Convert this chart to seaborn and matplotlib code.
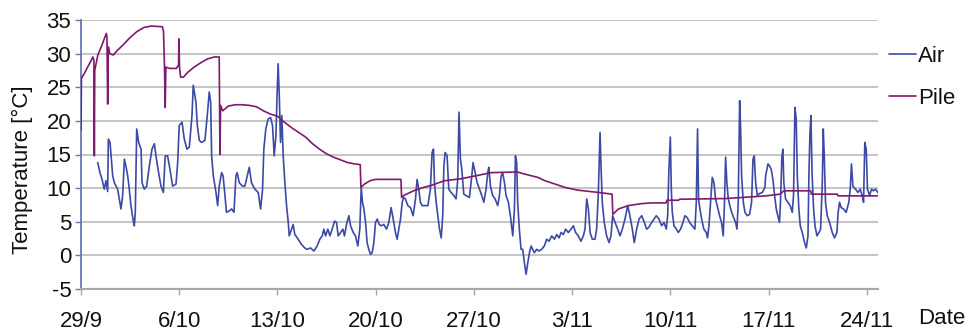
import matplotlib
matplotlib.use("Agg")
import matplotlib.pyplot as plt
import pandas as pd
import seaborn as sns

# Days counted from 29/9 00:00
air_day = [
    1.19, 1.35, 1.5, 1.66, 1.78, 1.9, 1.95, 2.07, 2.26, 2.38, 2.61, 2.73, 2.85, 2.97,
    3.09, 3.2, 3.33, 3.44, 3.56, 3.73, 3.8, 3.87, 3.97, 4.11, 4.28, 4.35, 4.51, 4.68,
    4.87, 5.06, 5.23, 5.34, 5.53, 5.7, 5.87, 6.0, 6.17, 6.34, 6.53, 6.77, 6.89, 7.0,
    7.2, 7.36, 7.55, 7.72, 7.91, 8.0, 8.19, 8.29, 8.43, 8.6, 8.83, 9.0, 9.14, 9.24,
    9.31, 9.43, 9.62, 9.74, 9.85, 10.02, 10.13, 10.26, 10.37, 10.56, 10.73, 10.9,
    11.04, 11.13, 11.28, 11.51, 11.68, 11.85, 11.99, 12.15, 12.39, 12.63, 12.8, 12.94,
    13.03, 13.17, 13.34, 13.51, 13.65, 13.77, 13.89, 13.98, 14.05, 14.13, 14.22, 14.31,
    14.41, 14.53, 14.65, 14.77, 14.84, 15.0, 15.12, 15.24, 15.48, 15.72, 15.95, 16.12,
    16.36, 16.6, 16.83, 17.02, 17.19, 17.31, 17.43, 17.59, 17.74, 17.9, 18.07, 18.21,
    18.33, 18.5, 18.66, 18.78, 18.92, 19.09, 19.21, 19.4, 19.56, 19.73, 19.87, 19.97,
    20.06, 20.16, 20.28, 20.39, 20.51, 20.63, 20.75, 20.87, 20.99, 21.11, 21.25, 21.39,
    21.58, 21.77, 21.94, 22.1, 22.25, 22.41, 22.53, 22.65, 22.77, 22.89, 23.0, 23.12,
    23.29, 23.48, 23.67, 23.84, 23.95, 24.07, 24.19, 24.31, 24.48, 24.72, 24.9, 25.02,
    25.12, 25.19, 25.31, 25.43, 25.55, 25.67, 25.78, 25.86, 25.95, 26.09, 26.21, 26.38,
    26.57, 26.73, 26.85, 26.94, 27.04, 27.14, 27.28, 27.44, 27.68, 27.85, 27.94, 28.09,
    28.23, 28.4, 28.56, 28.71, 28.87, 28.99, 29.06, 29.18, 29.34, 29.51, 29.7, 29.82,
    29.94, 30.05, 30.18, 30.29, 30.46, 30.6, 30.77, 30.89, 30.96, 31.05, 31.12, 31.24,
    31.36, 31.48, 31.6, 31.72, 31.84, 31.96, 32.08, 32.19, 32.31, 32.48, 32.64, 32.83,
    33.02, 33.19, 33.36, 33.55, 33.74, 33.9, 34.07, 34.21, 34.38, 34.54, 34.73, 34.92,
    35.09, 35.25, 35.44, 35.63, 35.8, 35.92, 36.04, 36.16, 36.28, 36.44, 36.63, 36.75,
    36.87, 36.99, 37.06, 37.15, 37.29, 37.46, 37.63, 37.77, 37.89, 38.06, 38.25, 38.41,
    38.58, 38.77, 38.96, 39.12, 39.29, 39.43, 39.6, 39.77, 39.96, 40.15, 40.31, 40.48,
    40.67, 40.84, 41.0, 41.19, 41.38, 41.55, 41.71, 41.81, 41.9, 42.0, 42.07, 42.14,
    42.26, 42.43, 42.57, 42.73, 42.9, 43.04, 43.21, 43.37, 43.56, 43.75, 43.85, 43.94,
    44.01, 44.11, 44.23, 44.39, 44.56, 44.65, 44.75, 44.87, 44.99, 45.11, 45.22, 45.34,
    45.51, 45.65, 45.77, 45.86, 45.94, 46.03, 46.13, 46.3, 46.46, 46.65, 46.75, 46.84,
    46.94, 47.01, 47.08, 47.2, 47.32, 47.48, 47.65, 47.79, 47.89, 47.98, 48.08, 48.2,
    48.36, 48.55, 48.74, 48.79, 48.96, 49.07, 49.19, 49.31, 49.43, 49.55, 49.66, 49.78,
    49.85, 49.95, 50.02, 50.09, 50.21, 50.38, 50.54, 50.69, 50.78, 50.88, 50.97, 51.05,
    51.16, 51.26, 51.4, 51.57, 51.69, 51.81, 51.88, 51.95, 52.02, 52.1, 52.21, 52.31,
    52.45, 52.59, 52.71, 52.83, 52.9, 52.97, 53.06, 53.18, 53.35, 53.54, 53.7, 53.87,
    53.96, 54.06, 54.18, 54.34, 54.53, 54.72, 54.82, 54.91, 55.01, 55.2, 55.37, 55.53,
    55.67, 55.77, 55.86, 55.96, 56.05, 56.2, 56.34, 56.48, 56.62, 56.79,
]
air_temp = [
    13.8, 12.3, 11.3, 9.85, 11.1, 9.5, 17.3, 16.8, 11.8, 10.8, 9.85, 8.4, 6.9, 8.9,
    14.3, 13.3, 11.8, 9.85, 7.4, 5.1, 4.4, 6.4, 18.8, 16.8, 15.8, 10.8, 9.85, 10.3,
    13.3, 15.8, 16.6, 14.8, 12.3, 10.3, 9.35, 14.8, 14.8, 12.8, 10.3, 10.6, 13.8, 19.3,
    19.8, 17.3, 15.8, 16.1, 20.8, 25.3, 22.8, 19.3, 17.1, 16.8, 17.1, 20.8, 24.3, 22.8,
    14.8, 11.8, 9.35, 7.4, 10.3, 12.3, 11.8, 8.9, 6.4, 6.6, 6.9, 6.4,
    11.8, 12.3, 10.8, 10.3, 10.3, 11.8, 13.1, 10.8, 9.85, 9.35, 6.9, 9.85,
    15.8, 18.8, 20.3, 20.5, 19.3, 14.8, 17.8, 24.3, 28.5, 23.8, 16.8, 20.8,
    14.8, 10.8, 7.4, 4.9, 2.9, 3.9, 4.6, 3.1, 2.4, 1.6, 1.1, 0.9,
    1.1, 0.65, 1.4, 2.4, 2.9, 3.9, 2.9, 3.9, 2.9, 3.9, 5.1, 4.9,
    2.9, 3.4, 3.9, 2.9, 4.6, 5.9, 4.4, 3.4, 2.9, 1.4, 3.9, 10.1,
    7.9, 6.9, 4.9, 1.9, 0.9, 0.15, 0.4, 1.9, 4.9, 5.4, 4.6, 4.4,
    4.6, 3.9, 4.9, 7.1, 5.4, 3.4, 2.4, 3.9, 5.4, 7.9, 8.6, 8.4,
    7.4, 7.1, 5.9, 8.4, 11.3, 9.85, 7.9, 7.4, 7.4, 7.4, 9.85, 15.3,
    15.8, 10.8, 7.9, 5.9, 3.9, 2.6, 5.9, 13.3, 15.3, 14.8, 9.85, 9.35,
    8.9, 8.4, 11.3, 21.3, 14.3, 12.8, 9.1, 8.9, 8.6, 11.8, 13.8, 12.3,
    10.8, 9.85, 8.9, 7.9, 9.85, 12.3, 13.1, 10.3, 8.9, 8.4, 7.4, 8.9,
    11.8, 12.3, 10.8, 8.9, 7.9, 5.9, 2.9, 6.9, 14.8, 13.8, 7.9, 3.9,
    0.9, 0.9, -1.1, -2.8, -1.1, 0.4, 1.4, 0.9, 0.4, 0.9, 0.65, 0.9,
    1.4, 2.4, 2.1, 2.9, 2.4, 3.1, 2.6, 3.4, 3.1, 3.9, 3.4, 3.9,
    4.4, 3.4, 2.9, 2.1, 2.9, 3.9, 8.4, 6.9, 3.4, 2.4, 2.4, 3.9,
    9.35, 18.3, 13.3, 7.9, 4.9, 2.9, 1.9, 2.9, 5.9, 4.9, 3.9, 2.9,
    3.9, 5.4, 7.4, 5.9, 3.9, 1.9, 3.9, 5.4, 5.9, 4.9, 3.9, 4.2,
    4.9, 5.4, 5.9, 5.4, 4.4, 4.9, 3.9, 5.9, 12.8, 17.6, 9.85, 6.4,
    4.4, 3.9, 3.4, 3.9, 4.9, 5.9, 5.6, 4.9, 4.4, 3.9, 7.9, 18.8,
    8.4, 6.9, 5.4, 3.9, 3.4, 2.6, 4.4, 7.9, 11.6, 10.8, 8.4, 7.4,
    5.9, 4.9, 2.9, 7.9, 14.6, 10.8, 8.4, 6.9, 5.9, 4.9, 3.9, 7.9,
    23.0, 18.8, 11.8, 7.9, 6.4, 5.9, 6.1, 7.9, 14.3, 14.8, 10.8, 8.9,
    9.2, 9.35, 10.1, 11.8, 13.6, 13.3, 12.8, 11.3, 8.9, 6.9, 5.9, 4.9,
    7.9, 14.6, 15.8, 10.8, 8.4, 7.9, 7.4, 6.4, 8.9, 22.0, 20.3, 11.8,
    6.9, 4.4, 3.4, 1.9, 1.1, 2.9, 12.3, 18.1, 20.8, 12.3, 6.9, 4.4,
    2.9, 3.4, 3.9, 10.8, 18.8, 14.8, 7.9, 5.9, 4.9, 3.4, 2.6, 3.4,
    6.4, 7.9, 7.1, 6.9, 6.4, 7.9, 9.85, 13.6, 10.3, 9.85, 9.35, 9.85,
    8.9, 7.9, 16.8, 15.8, 9.85, 8.9, 9.85, 9.6, 9.85, 9.35,
]

pile_day = [
    0.0, 0.03, 0.3, 0.6, 0.85, 0.92, 0.95, 0.98, 1.2, 1.5, 1.8, 1.85, 1.9, 1.95,
    2.05, 2.3, 2.6, 3.0, 3.5, 4.0, 4.5, 5.0, 5.8, 5.88, 5.95, 6.0, 6.05, 6.3, 6.8,
    6.95, 6.98, 7.02, 7.1, 7.3, 7.6, 8.0, 8.5, 9.0, 9.5, 9.85, 9.9, 9.95, 10.1,
    10.5, 11.0, 11.5, 12.0, 12.5, 13.0, 13.5, 14.0, 14.5, 15.0, 15.5, 16.0, 16.5,
    17.0, 17.5, 18.0, 18.5, 19.0, 19.5, 19.9, 19.95, 20.2, 20.6, 21.0, 22.8, 22.85,
    23.0, 23.7, 24.4, 24.95, 25.9, 27.1, 28.3, 29.2, 31.1, 31.6, 32.55, 33.07, 34.5,
    35.4, 36.9, 37.85, 37.9, 38.3, 39.0, 39.96, 40.67, 41.7, 41.75, 42.6, 42.65,
    45.9, 47.8, 48.8, 49.8, 50.1, 52.0, 52.05, 53.9, 53.95, 56.8,
]
pile_temp = [
    18.6, 26.3, 27.3, 28.5, 29.5, 29.0, 14.8, 27.5, 29.8, 31.3, 33.0, 32.5, 22.5, 31.0,
    30.0, 29.8, 30.5, 31.3, 32.4, 33.3, 33.9, 34.1, 34.0, 33.3, 28.0, 22.0, 28.0, 27.8, 27.8,
    28.3, 32.2, 28.0, 26.5, 26.5, 27.2, 27.9, 28.6, 29.2, 29.5, 29.5, 15.0, 22.3, 21.5,
    22.2, 22.4, 22.4, 22.3, 22.1, 21.5, 21.0, 20.7, 19.8, 19.0, 18.3, 17.6, 16.6,
    15.8, 15.1, 14.6, 14.2, 13.8, 13.6, 13.5, 10.1, 10.6, 11.1, 11.3, 11.3, 8.6,
    8.9, 9.6, 10.1, 10.4, 11.1, 11.4, 11.9, 12.3, 12.4, 12.1, 11.6, 11.1, 10.1,
    9.7, 9.35, 9.1, 6.1, 6.9, 7.4, 7.7, 7.8, 7.8, 8.2, 8.2, 8.35,
    8.45, 8.7, 8.85, 9.1, 9.6, 9.6, 9.1, 9.1, 8.85, 8.85,
]

tick_days = [0, 7, 14, 21, 28, 35, 42, 49, 56]
tick_labels = ["29/9", "6/10", "13/10", "20/10", "27/10", "3/11", "10/11", "17/11", "24/11"]
temp_ticks = [-5, 0, 5, 10, 15, 20, 25, 30, 35]

AIR_COLOR = "#3c4aa6"
PILE_COLOR = "#7f1a6c"
GRID_COLOR = "#c6c6c6"
YAXIS_COLOR = "#6a76b4"

sns.set_theme(style="white")
plt.rcParams["font.family"] = ["Liberation Sans", "DejaVu Sans"]
plt.rcParams["text.color"] = "#111111"

W, H = 969, 333
fig = plt.figure(figsize=(W / 100, H / 100), dpi=100)
fig.patch.set_facecolor("white")
left, right, top, bottom = 81, 878, 20, 289
ax = fig.add_axes([left / W, 1 - bottom / H, (right - left) / W, (bottom - top) / H])

air = pd.DataFrame({"day": air_day, "temp": air_temp})
pile = pd.DataFrame({"day": pile_day, "temp": pile_temp})

sns.lineplot(data=air, x="day", y="temp", ax=ax, color=AIR_COLOR, linewidth=1.2,
             estimator=None, sort=False, label="Air", zorder=3)
sns.lineplot(data=pile, x="day", y="temp", ax=ax, color=PILE_COLOR, linewidth=1.2,
             estimator=None, sort=False, label="Pile", zorder=4)

ax.set_xlim(0, 56.8)
ax.set_ylim(-5, 35)
ax.set_xticks(tick_days)
ax.set_xticklabels(tick_labels)
ax.set_yticks(temp_ticks)
ax.set_yticklabels([str(t) for t in temp_ticks])
ax.set_xlabel("")
ax.set_ylabel("")

ax.yaxis.grid(True, color=GRID_COLOR, linewidth=1.5)
ax.xaxis.grid(False)
ax.set_axisbelow(True)
for side in ("top", "right"):
    ax.spines[side].set_visible(False)
ax.spines["left"].set_color(YAXIS_COLOR)
ax.spines["left"].set_linewidth(1.3)
ax.spines["bottom"].set_color("#a8a8a8")
ax.spines["bottom"].set_linewidth(1.5)

ax.tick_params(axis="y", labelsize=16, length=4, width=1, color=YAXIS_COLOR,
               pad=3, left=True, labelcolor="#111111")
ax.tick_params(axis="x", labelsize=16, length=4, width=1, color="#a8a8a8",
               pad=12, bottom=True, labelcolor="#111111")

fig.text(22 / W, 1 - 170 / H, "Temperature [°C]", rotation=90, ha="center",
         va="center", fontsize=16)
fig.text(918 / W, 1 - 318 / H, "Date", ha="left", va="center", fontsize=16)

leg = ax.legend(loc="upper left", bbox_to_anchor=(889 / W, 1 - 46 / H),
                bbox_transform=fig.transFigure, frameon=False, fontsize=16,
                handlelength=1.2, handletextpad=0.1, labelspacing=0.95,
                borderpad=0, borderaxespad=0)

fig.savefig("out.png", dpi=100, facecolor="white")
